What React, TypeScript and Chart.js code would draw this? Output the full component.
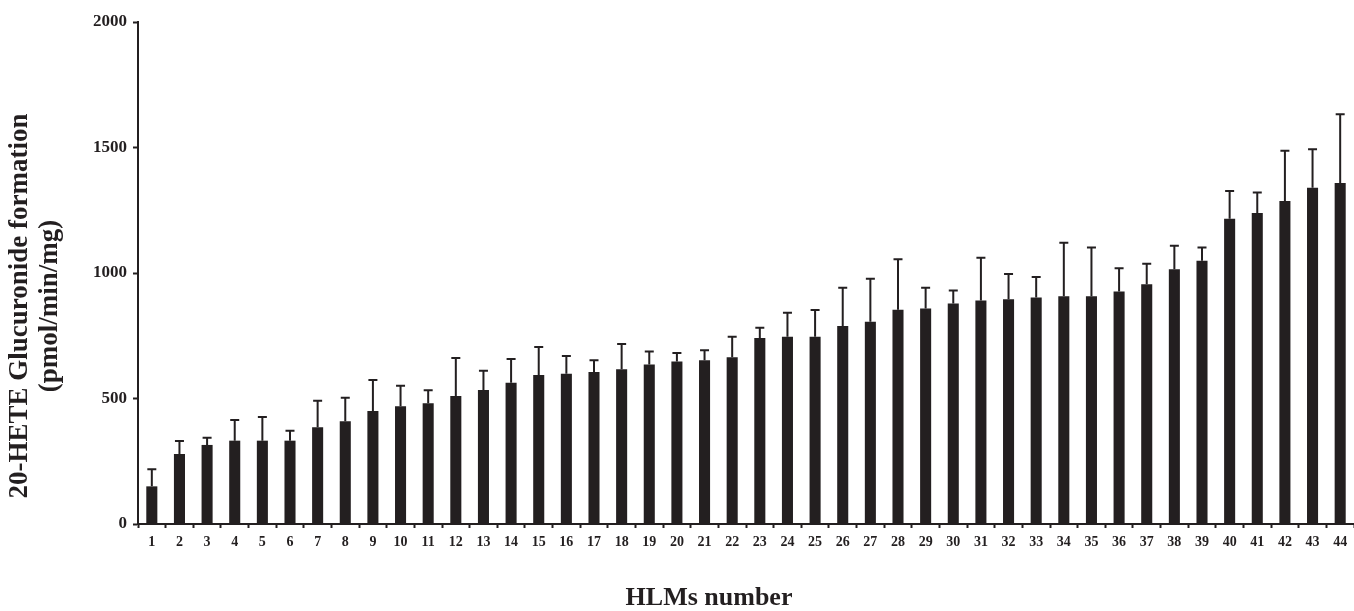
import { useEffect, useRef } from 'react';
import { Chart, registerables } from 'chart.js';

Chart.register(...registerables);

const categories = ['1','2','3','4','5','6','7','8','9','10','11','12','13','14','15','16','17','18','19','20','21','22','23','24','25','26','27','28','29','30','31','32','33','34','35','36','37','38','39','40','41','42','43','44'];

const meanValues = [150, 279, 315, 332, 332, 332, 385, 409, 450, 469, 481, 510, 534, 563, 594, 599, 606, 617, 635, 647, 652, 664, 741, 746, 746, 789, 806, 854, 859, 878, 890, 895, 902, 907, 907, 926, 955, 1015, 1049, 1216, 1239, 1287, 1340, 1359];

const sdValues = [68, 52, 29, 82, 94, 40, 106, 94, 124, 82, 52, 151, 77, 94, 111, 70, 46, 100, 52, 34, 40, 82, 41, 96, 107, 152, 171, 201, 82, 52, 171, 101, 82, 214, 195, 93, 82, 94, 53, 111, 82, 200, 153, 273];

const yTicks = [0, 500, 1000, 1500, 2000];

const yTitle = ['20-HETE Glucuronide formation', '(pmol/min/mg)'];
const xTitle = 'HLMs number';

const FONT = '"Liberation Serif", "Times New Roman", serif';
const INK = '#231f20';

const errorBarPlugin = {
  id: 'errorBars',
  afterDatasetsDraw(chart: any) {
    const meta = chart.getDatasetMeta(0);
    const yScale = chart.scales.y;
    const ctx = chart.ctx;
    ctx.save();
    ctx.strokeStyle = INK;
    ctx.lineWidth = 2;
    meta.data.forEach((bar: any, i: number) => {
      const x = bar.x;
      const yBase = yScale.getPixelForValue(meanValues[i]);
      const yTop = yScale.getPixelForValue(meanValues[i] + sdValues[i]);
      ctx.beginPath();
      ctx.moveTo(x, yBase);
      ctx.lineTo(x, yTop);
      ctx.moveTo(x - 4.5, yTop);
      ctx.lineTo(x + 4.5, yTop);
      ctx.stroke();
    });
    ctx.restore();
  },
};

const axisTitlePlugin = {
  id: 'axisTitles',
  afterDraw(chart: any) {
    const ctx = chart.ctx;
    const area = chart.chartArea;
    ctx.save();
    ctx.fillStyle = INK;
    ctx.textAlign = 'center';
    ctx.textBaseline = 'middle';
    ctx.font = `bold 27px ${FONT}`;
    // y-axis title (rotated, two lines)
    const cy = (area.top + area.bottom) / 2 + 33;
    const xs = [20, 50];
    yTitle.forEach((line, i) => {
      ctx.save();
      ctx.translate(xs[i], cy);
      ctx.rotate(-Math.PI / 2);
      ctx.fillText(line, 0, 0);
      ctx.restore();
    });
    // x-axis title
    ctx.font = `bold 26px ${FONT}`;
    ctx.fillText(xTitle, (area.left + area.right) / 2 - 37, 598);
    ctx.restore();
  },
};

export default function App() {
  const canvasRef = useRef<HTMLCanvasElement | null>(null);

  useEffect(() => {
    if (!canvasRef.current) return;
    const chart = new Chart(canvasRef.current, {
      type: 'bar',
      data: {
        labels: categories,
        datasets: [
          {
            data: meanValues,
            backgroundColor: INK,
            borderWidth: 0,
            barPercentage: 0.4,
            categoryPercentage: 1,
          },
        ],
      },
      options: {
        animation: false,
        responsive: false,
        maintainAspectRatio: false,
        layout: { padding: { top: 22, left: 0, right: 0, bottom: 0 } },
        plugins: {
          legend: { display: false },
          tooltip: { enabled: false },
        },
        scales: {
          x: {
            grid: {
              display: true,
              drawOnChartArea: false,
              drawTicks: true,
              tickLength: 4,
              tickColor: INK,
              tickWidth: 2,
              offset: true,
            },
            border: { display: true, color: INK, width: 2 },
            ticks: {
              color: INK,
              padding: 6,
              maxRotation: 0,
              autoSkip: false,
              font: { family: FONT, size: 14, weight: 'bold' },
            },
            afterFit(scale: any) {
              scale.height = 87;
            },
          },
          y: {
            min: 0,
            max: 2000,
            afterBuildTicks(scale: any) {
              scale.ticks = yTicks.map((v) => ({ value: v }));
            },
            grid: {
              display: true,
              drawOnChartArea: false,
              drawTicks: true,
              tickLength: 5,
              tickColor: INK,
              tickWidth: 2,
            },
            border: { display: true, color: INK, width: 2 },
            ticks: {
              color: INK,
              padding: 6,
              callback: (v: any) => String(v),
              font: { family: FONT, size: 17, weight: 'bold' },
            },
            afterFit(scale: any) {
              scale.width = 138;
            },
          },
        },
      },
      plugins: [errorBarPlugin, axisTitlePlugin],
    });
    return () => chart.destroy();
  }, []);

  return (
    <div style={{ position: 'absolute', left: 0, top: 0, width: 1354, height: 611, background: '#fff' }}>
      <canvas ref={canvasRef} width={1354} height={611} style={{ width: 1354, height: 611, display: 'block' }} />
    </div>
  );
}
